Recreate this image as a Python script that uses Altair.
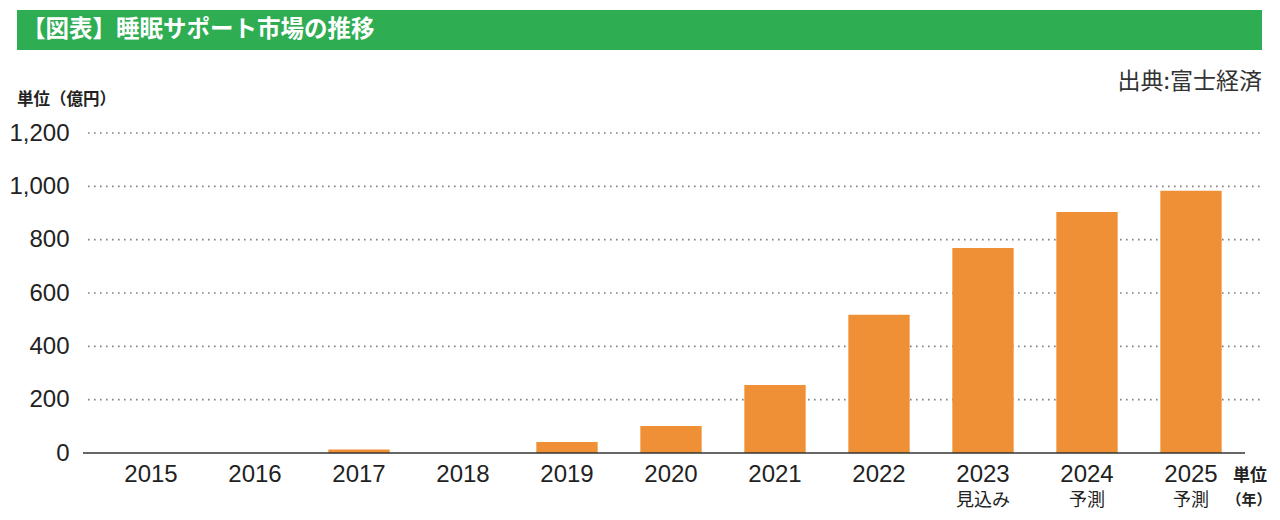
import altair as alt
import pandas as pd

years = ["2015", "2016", "2017", "2018", "2019", "2020", "2021", "2022", "2023", "2024", "2025"]
values = [0, 0, 13, 0, 41, 101, 255, 518, 769, 904, 983]
sublabels = ["", "", "", "", "", "", "", "", "見込み", "予測", "予測"]
grid_values = [200, 400, 600, 800, 1000, 1200]
y_ticks = [0, 200, 400, 600, 800, 1000, 1200]

title_text = "【図表】睡眠サポート市場の推移"
source_text = "出典:富士経済"
y_unit = "単位（億円）"
x_unit_top = "単位"
x_unit_bottom = "（年）"

FONT = "Liberation Sans, Noto Sans CJK JP, sans-serif"
JFONT = "Noto Sans CJK JP, sans-serif"

df = pd.DataFrame({"year": years, "value": values, "sub": sublabels})
gdf = pd.DataFrame({"value": grid_values})
one = pd.DataFrame({"a": [0]})

W, H = 1144, 320

yaxis = alt.Axis(title=None, values=y_ticks, format=",.0f", domain=False,
                 ticks=False, grid=False, labelFont=FONT, labelFontSize=24,
                 labelColor="#222", labelPadding=30)
yscale = alt.Scale(domain=[0, 1200], nice=False)

xs = alt.X("year:N", sort=years,
           scale=alt.Scale(paddingInner=0.41, paddingOuter=0.205),
           axis=alt.Axis(title=None, labelAngle=0, domain=False, ticks=False,
                         labelFont=FONT, labelFontSize=24, labelColor="#222",
                         labelPadding=9))

grid = alt.Chart(gdf).mark_rule(color="#808080", strokeWidth=1.6,
                                strokeDash=[1.6, 4.4]).encode(
    y=alt.Y("value:Q", scale=yscale, axis=yaxis),
    x=alt.value(-11), x2=alt.value(1163))

bars = alt.Chart(df).mark_bar(color="#F09036").encode(
    x=xs, y=alt.Y("value:Q", scale=yscale, axis=yaxis))

baseline = alt.Chart(one).mark_rule(color="#333", strokeWidth=1.5).encode(
    y=alt.value(H), x=alt.value(-16), x2=alt.value(1146))

subs = alt.Chart(df).mark_text(font=JFONT, fontSize=18, color="#222",
                               baseline="middle").encode(
    x=alt.X("year:N", sort=years), y=alt.value(368), text="sub:N")

bar_bg = alt.Chart(one).mark_rect(color="#2EAD52").encode(
    x=alt.value(-82), x2=alt.value(1163), y=alt.value(-123), y2=alt.value(-83))

title = alt.Chart(one).mark_text(text=title_text, font=JFONT, fontSize=23.5,
                                 fontWeight="bold", color="white", align="left",
                                 baseline="middle").encode(
    x=alt.value(-77), y=alt.value(-103))

source = alt.Chart(one).mark_text(text=source_text, font=JFONT, fontSize=23,
                                  color="#333", align="right",
                                  baseline="middle").encode(
    x=alt.value(1163), y=alt.value(-51))

yunit = alt.Chart(one).mark_text(text=y_unit, font=JFONT, fontSize=16.5,
                                 fontWeight="bold", color="#222", align="left",
                                 baseline="middle").encode(
    x=alt.value(-82), y=alt.value(-33))

xunit1 = alt.Chart(one).mark_text(text=x_unit_top, font=JFONT, fontSize=17,
                                  fontWeight="bold", color="#222", align="center",
                                  baseline="middle").encode(
    x=alt.value(1151), y=alt.value(343))

xunit2 = alt.Chart(one).mark_text(text=x_unit_bottom, font=JFONT, fontSize=15,
                                  fontWeight="bold", color="#222", align="center",
                                  baseline="middle").encode(
    x=alt.value(1150), y=alt.value(367))

chart = alt.layer(grid, bars, baseline, subs, bar_bg, title, source, yunit,
                  xunit1, xunit2).properties(
    width=W, height=H,
    autosize=alt.AutoSizeParams(type="none"),
    padding={"left": 91, "top": 125, "right": 29, "bottom": 59},
).configure(background="white").configure_view(stroke=None)

chart.save("out.html", embed_options={"renderer": "svg", "actions": False})
